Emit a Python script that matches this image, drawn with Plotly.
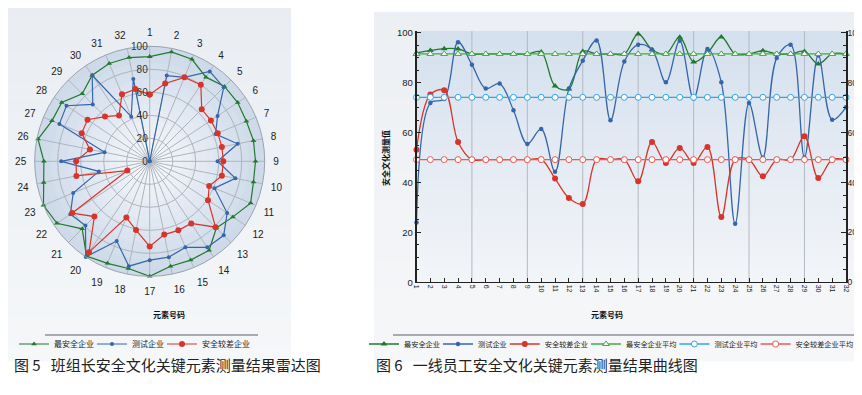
import plotly.graph_objects as go

# ---------------- data ----------------
elements = [str(i) for i in range(1, 33)]
element_nums = list(range(1, 33))

# Fig 5 radar (班组长)
radar_best = [91, 97, 96, 88, 92, 92, 91, 92, 92, 92, 95, 87, 82, 93, 93, 93,
              100, 95, 96, 99, 83, 97, 100, 94, 92, 99, 92, 92, 83, 90, 92, 92]
radar_test = [0, 76, 79, 94, 91, 71, 62, 78, 59, 76, 61, 81, 91, 90, 81, 85,
              86, 93, 75, 100, 79, 83, 72, 45, 77, 40, 85, 87, 70, 90, 42, 73]
radar_poor = [58, 69, 79, 80, 64, 64, 64, 64, 64, 64, 56, 61, 81, 65, 65, 65,
              74, 61, 53, 95, 68, 81, 21, 65, 64, 53, 64, 65, 55, 48, 63, 64]
radial_ticks = [0, 20, 40, 60, 80, 100]

# Fig 6 curves (一线员工)
line_best = [92.0, 93.0, 93.7, 93.6, 91.6, 91.6, 91.6, 91.6, 91.6, 92.4, 78.7, 77.5,
             92.6, 91.6, 91.6, 91.6, 99.6, 93.3, 91.6, 98.3, 88.4, 92.0, 98.4, 91.6,
             91.6, 92.9, 91.6, 91.6, 92.6, 87.6, 91.6, 91.6]
line_test = [24, 71.9, 73.5, 96.3, 87.3, 77.7, 79.7, 69.0, 55.5, 61.5, 44.3, 77.7,
             88.9, 97.0, 65.0, 88.6, 95.3, 93.3, 80.2, 96.9, 73.7, 93.6, 80.2, 23.5,
             71.9, 50.1, 90.0, 95.3, 50.1, 91.0, 65.2, 70.2]
line_poor = [53.2, 75.3, 77.0, 56.3, 49.2, 49.2, 49.2, 49.2, 49.2, 49.3, 41.6, 33.8,
             31.4, 49.2, 49.2, 49.2, 40.5, 56.3, 47.9, 53.9, 47.9, 54.3, 26.2, 49.2,
             49.2, 42.5, 49.2, 49.2, 58.6, 41.8, 49.2, 49.2]
avg_best = 91.6
avg_test = 74.2
avg_poor = 49.2
y_ticks = [0, 20, 40, 60, 80, 100]
grid_elements = [5, 9, 13, 17, 21, 25, 29]

names = ["最安全企业", "测试企业", "安全较差企业",
         "最安全企业平均", "测试企业平均", "安全较差企业平均"]

# ---------------- styling ----------------
W, H = 862, 395
FONT = "Liberation Sans, Noto Sans CJK SC, sans-serif"
CJK = "Noto Sans CJK SC, sans-serif"
C_BEST = "#1f7a2c"
C_TEST = "#3566aa"
C_POOR = "#d8352a"
C_BEST_AVG = "#3fae3f"
C_TEST_AVG = "#33a6e4"
C_POOR_AVG = "#ec5a52"
LEG_L = 8.0     # legend font size, left panel
LEG_R = 7.2     # legend font size, right panel


def px(x):
    return x / W


def py(y):
    return 1 - y / H


def lerp(c1, c2, t):
    return "rgb(%d,%d,%d)" % tuple(round(a + (b - a) * t) for a, b in zip(c1, c2))


shapes = []


def vgrad(x0, y0, x1, y1, ctop, cbot, n=24):
    for i in range(n):
        ya = y0 + (y1 - y0) * i / n
        yb = y0 + (y1 - y0) * (i + 1) / n + 0.6
        shapes.append(dict(type="rect", xref="paper", yref="paper", layer="below",
                           x0=px(x0), x1=px(x1), y0=py(yb), y1=py(ya),
                           fillcolor=lerp(ctop, cbot, (i + 0.5) / n), line_width=0))


# panel backgrounds
vgrad(0, 0, 283, 353, (233, 237, 242), (245, 247, 249))
vgrad(366, 4, 862, 353, (236, 239, 243), (246, 247, 249))
# plot-area gradient of the curve chart
X0, X1, YT, YB = 408.5, 838.0, 23.0, 274.3
vgrad(X0, YT, X1, YB, (212, 224, 238), (243, 245, 248), n=30)

# radar radial gradient
CX, CY, R = 141.7, 153.3, 115.0
NC = 14
for i in range(NC):
    rr = R * (NC - i) / NC
    shapes.append(dict(type="circle", xref="paper", yref="paper", layer="below",
                       x0=px(CX - rr), x1=px(CX + rr), y0=py(CY + rr), y1=py(CY - rr),
                       fillcolor=lerp((206, 218, 233), (246, 248, 251), i / (NC - 1)),
                       line_width=0))

# separator lines above legends
shapes.append(dict(type="line", xref="paper", yref="paper", x0=px(37), x1=px(250),
                   y0=py(327), y1=py(327), line=dict(color="#5a5f66", width=1)))
shapes.append(dict(type="line", xref="paper", yref="paper", x0=px(385), x1=px(850),
                   y0=py(327), y1=py(327), line=dict(color="#5a5f66", width=1)))

# vertical grid lines of curve chart
for g in grid_elements:
    shapes.append(dict(type="line", xref="x", yref="y", layer="below", x0=g, x1=g,
                       y0=0, y1=100.8, line=dict(color="#b4b9c1", width=1)))

# ---------------- one legend per entry (tight packing) ----------------
legend_layout = {}
legend_keys = []


def make_legends(entry_names, start_x, size, first_index):
    x = start_x
    for k, nm in enumerate(entry_names):
        idx = first_index + k
        key = "legend" if idx == 1 else "legend%d" % idx
        legend_layout[key] = dict(
            orientation="h", x=px(x), xanchor="left", y=py(336), yanchor="middle",
            bgcolor="rgba(0,0,0,0)", itemwidth=30, borderwidth=0,
            font=dict(family=CJK, size=size, color="#222"))
        legend_keys.append(key)
        x += 38 + size * len(nm)


make_legends(names[:3], 6, LEG_L, 1)
make_legends(names, 356, LEG_R, 4)

fig = go.Figure()

# ---- radar ----
for k, (vals, name, col, sym, size) in enumerate([
    (radar_best, names[0], C_BEST, "triangle-up", 5),
    (radar_test, names[1], C_TEST, "circle", 4),
    (radar_poor, names[2], C_POOR, "circle", 6),
]):
    fig.add_trace(go.Scatterpolar(
        r=vals + vals[:1], theta=elements + elements[:1], name=name,
        mode="lines+markers", line=dict(color=col, width=1.2),
        marker=dict(symbol=sym, size=size, color=col), legend=legend_keys[k]))

# ---- curves ----
for k, (vals, name, col, sym, size) in enumerate([
    (line_best, names[0], C_BEST, "triangle-up", 6),
    (line_test, names[1], C_TEST, "circle", 4.5),
    (line_poor, names[2], C_POOR, "circle", 6),
]):
    fig.add_trace(go.Scatter(
        x=element_nums, y=vals, name=name, mode="lines+markers", cliponaxis=False,
        line=dict(color=col, width=1.3, shape="spline", smoothing=1.0),
        marker=dict(symbol=sym, size=size, color=col), legend=legend_keys[3 + k]))

for k, (avg, name, col, sym) in enumerate([
    (avg_best, names[3], C_BEST_AVG, "triangle-up"),
    (avg_test, names[4], C_TEST_AVG, "circle"),
    (avg_poor, names[5], C_POOR_AVG, "circle"),
]):
    fig.add_trace(go.Scatter(
        x=element_nums, y=[avg] * len(element_nums), name=name, mode="lines+markers",
        cliponaxis=False, line=dict(color=col, width=1.3),
        marker=dict(symbol=sym, size=6, color="white", line=dict(color=col, width=1)),
        legend=legend_keys[6 + k]))

# dummy trace for right-hand axis
fig.add_trace(go.Scatter(x=[element_nums[0]], y=[0], yaxis="y2", showlegend=False,
                         mode="markers", marker=dict(opacity=0), hoverinfo="skip"))

axis_common = dict(range=[0, 100.8], tickvals=y_ticks, showgrid=False, zeroline=False,
                   showline=True, linecolor="#222", linewidth=1.5, ticks="inside",
                   ticklen=5, tickcolor="#222",
                   minor=dict(dtick=5, ticks="inside", ticklen=3, tickcolor="#222"))

fig.update_layout(
    width=W, height=H, margin=dict(l=0, r=0, t=0, b=0, autoexpand=False),
    paper_bgcolor="white", plot_bgcolor="rgba(0,0,0,0)",
    font=dict(family=FONT, size=9, color="#222"),
    shapes=shapes,
    polar=dict(
        domain=dict(x=[px(CX - R), px(CX + R)], y=[py(CY + R), py(CY - R)]),
        bgcolor="rgba(0,0,0,0)",
        radialaxis=dict(range=[0, 100], tickvals=radial_ticks, angle=90, tickangle=90,
                        side="counterclockwise", showline=False, ticks="",
                        gridcolor="#aeb5bf", gridwidth=1,
                        tickfont=dict(size=10, color="#333")),
        angularaxis=dict(direction="clockwise", rotation=90, categoryorder="array",
                         categoryarray=elements, gridcolor="#aeb5bf",
                         linecolor="#9aa2ad", showline=True, ticks="outside",
                         ticklen=6, tickcolor="rgba(0,0,0,0)",
                         tickfont=dict(size=10, color="#222")),
    ),
    xaxis=dict(domain=[px(X0), px(X1)], range=[1, 32], tickvals=element_nums,
               ticktext=elements, tickangle=90, showgrid=False, zeroline=False,
               showline=True, linecolor="#222", linewidth=1, ticks="inside",
               ticklen=4, tickcolor="#222", tickfont=dict(size=7, color="#222")),
    yaxis=dict(domain=[py(YB), py(YT)], tickfont=dict(size=9.5, color="#222"),
               **axis_common),
    yaxis2=dict(overlaying="y", side="right", anchor="x", ticklabelstandoff=-2,
                tickfont=dict(size=8.5, color="#222"), **axis_common),
    annotations=[
        dict(text="<b>元素号码</b>", x=px(143), y=py(314), xref="paper", yref="paper",
             showarrow=False, font=dict(family=CJK, size=8, color="#111")),
        dict(text="<b>元素号码</b>", x=px(617), y=py(314), xref="paper", yref="paper",
             showarrow=False, font=dict(family=CJK, size=8, color="#111")),
        dict(text="<b>安全文化测量值</b>", x=px(377), y=py(150), xref="paper",
             yref="paper", showarrow=False, textangle=-90,
             font=dict(family=CJK, size=8, color="#111")),
        dict(text="图 5   班组长安全文化关键元素测量结果雷达图", x=px(4), y=py(369),
             xref="paper", yref="paper", xanchor="left", showarrow=False,
             font=dict(family=CJK, size=15, color="#222")),
        dict(text="图 6   一线员工安全文化关键元素测量结果曲线图", x=px(366), y=py(369),
             xref="paper", yref="paper", xanchor="left", showarrow=False,
             font=dict(family=CJK, size=15, color="#222")),
    ],
    **legend_layout,
)

fig.write_html("out.html")
